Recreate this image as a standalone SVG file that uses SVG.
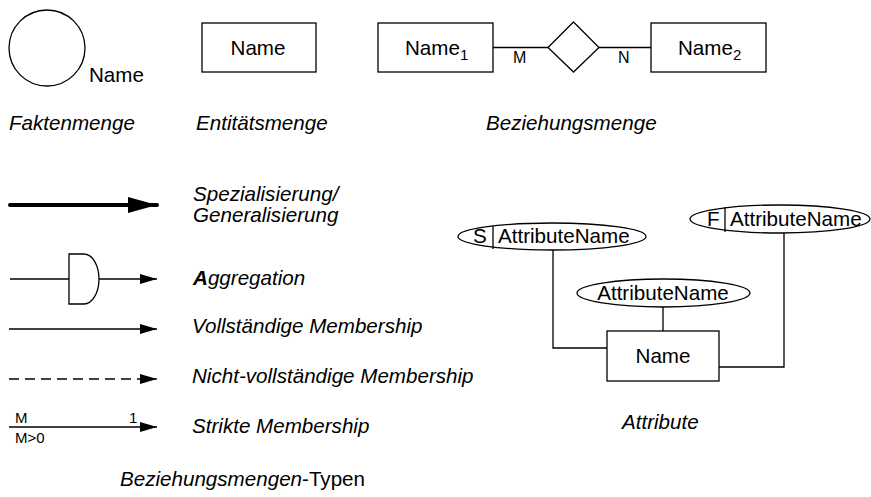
<svg xmlns="http://www.w3.org/2000/svg" width="871" height="497" viewBox="0 0 871 497">
  <style>
    text { font-family: "Liberation Sans", Arial, sans-serif; font-size: 20.6px; fill: #000; }
    .cap { font-style: italic; }
    .small { font-size: 16px; }
    .tiny { font-size: 15px; }
    .shape { fill: #fff; stroke: #000; stroke-width: 1.3; }
    .ln { fill: none; stroke: #000; stroke-width: 1.3; }
  </style>
  <defs>
    <marker id="head" viewBox="0 0 17 10" refX="17" refY="5" markerWidth="17" markerHeight="10" markerUnits="userSpaceOnUse" orient="auto">
      <path d="M0,0 L17,5 L0,10 Z" fill="#000"/>
    </marker>
    <marker id="bighead" viewBox="0 0 29 16" refX="29" refY="8" markerWidth="29" markerHeight="16" markerUnits="userSpaceOnUse" orient="auto">
      <path d="M0,0 L29,8 L0,16 Z" fill="#000"/>
    </marker>
  </defs>

  <!-- Faktenmenge -->
  <g id="faktenmenge">
    <circle class="shape" cx="47" cy="48" r="38"/>
    <text x="89" y="82">Name</text>
    <text class="cap" x="9" y="130">Faktenmenge</text>
  </g>

  <!-- Entitätsmenge -->
  <g id="entitaetsmenge">
    <rect class="shape" x="202" y="23" width="114" height="49"/>
    <text x="258" y="55" text-anchor="middle">Name</text>
    <text class="cap" x="196" y="130">Entitätsmenge</text>
  </g>

  <!-- Beziehungsmenge -->
  <g id="beziehung-connectors">
    <line class="ln" x1="493" y1="47.5" x2="548" y2="47.5"/>
    <line class="ln" x1="599" y1="47.5" x2="651" y2="47.5"/>
  </g>
  <g id="name1">
    <rect class="shape" x="378" y="23" width="115" height="49"/>
    <text x="405" y="55">Name<tspan class="tiny" dy="5">1</tspan></text>
  </g>
  <g id="relationship">
    <path class="shape" d="M573.5,22 L599,47.5 L573.5,72 L548,47.5 Z"/>
    <text class="small" x="513" y="63">M</text>
    <text class="small" x="618" y="63">N</text>
  </g>
  <g id="name2">
    <rect class="shape" x="651" y="23" width="115" height="49"/>
    <text x="678" y="55">Name<tspan class="tiny" dy="5">2</tspan></text>
  </g>
  <text class="cap" x="486" y="130">Beziehungsmenge</text>

  <!-- Beziehungsmengen-Typen -->
  <g id="spezialisierung">
    <line x1="10" y1="205" x2="157" y2="205" stroke="#000" stroke-width="4" stroke-linecap="round" marker-end="url(#bighead)"/>
    <text class="cap" x="193" y="201">Spezialisierung/</text>
    <text class="cap" x="193" y="222">Generalisierung</text>
  </g>

  <g id="aggregation">
    <line class="ln" x1="10" y1="279" x2="69" y2="279"/>
    <path class="shape" d="M69,254 L84,254 A15,25 0 0 1 84,304 L69,304 Z"/>
    <line class="ln" x1="99" y1="279" x2="157" y2="279" marker-end="url(#head)"/>
    <text class="cap" x="193" y="285"><tspan font-weight="bold">A</tspan>ggregation</text>
  </g>

  <g id="vollstaendig">
    <line class="ln" x1="9" y1="329" x2="157" y2="329" marker-end="url(#head)"/>
    <text class="cap" x="192" y="333">Vollständige Membership</text>
  </g>

  <g id="nicht-vollstaendig">
    <line class="ln" x1="9" y1="379" x2="142" y2="379" stroke-dasharray="10,6"/>
    <line class="ln" x1="140" y1="379" x2="157" y2="379" marker-end="url(#head)"/>
    <text class="cap" x="192" y="383">Nicht-vollständige Membership</text>
  </g>

  <g id="strikt">
    <line class="ln" x1="9" y1="427" x2="157" y2="427" marker-end="url(#head)"/>
    <text class="tiny" x="15" y="423">M</text>
    <text class="tiny" x="129" y="423">1</text>
    <text class="tiny" x="15" y="443">M&gt;0</text>
    <text class="cap" x="192" y="433">Strikte Membership</text>
  </g>

  <text x="120" y="486"><tspan class="cap">Beziehungsmengen</tspan>-Typen</text>

  <!-- Attribute -->
  <g id="attr-connectors">
    <polyline class="ln" points="553,250 553,348 607,348"/>
    <line class="ln" x1="663" y1="307" x2="663" y2="331"/>
    <polyline class="ln" points="784,233 784,367 719,367"/>
  </g>
  <g id="attr-s">
    <ellipse class="shape" cx="552" cy="236.5" rx="94" ry="13.5"/>
    <line class="ln" x1="493" y1="226" x2="493" y2="249"/>
    <text x="473" y="243">S</text>
    <text x="498" y="243">AttributeName</text>
  </g>
  <g id="attr-f">
    <ellipse class="shape" cx="780" cy="219" rx="90" ry="14"/>
    <line class="ln" x1="725" y1="207" x2="725" y2="232"/>
    <text x="707" y="226">F</text>
    <text x="730" y="226">AttributeName</text>
  </g>
  <g id="attr-plain">
    <ellipse class="shape" cx="663.5" cy="293" rx="86.5" ry="14"/>
    <text x="663" y="300" text-anchor="middle">AttributeName</text>
  </g>
  <g id="entity-name">
    <rect class="shape" x="607" y="331" width="112" height="50"/>
    <text x="663" y="363" text-anchor="middle">Name</text>
  </g>
  <text class="cap" x="622" y="429">Attribute</text>
</svg>
